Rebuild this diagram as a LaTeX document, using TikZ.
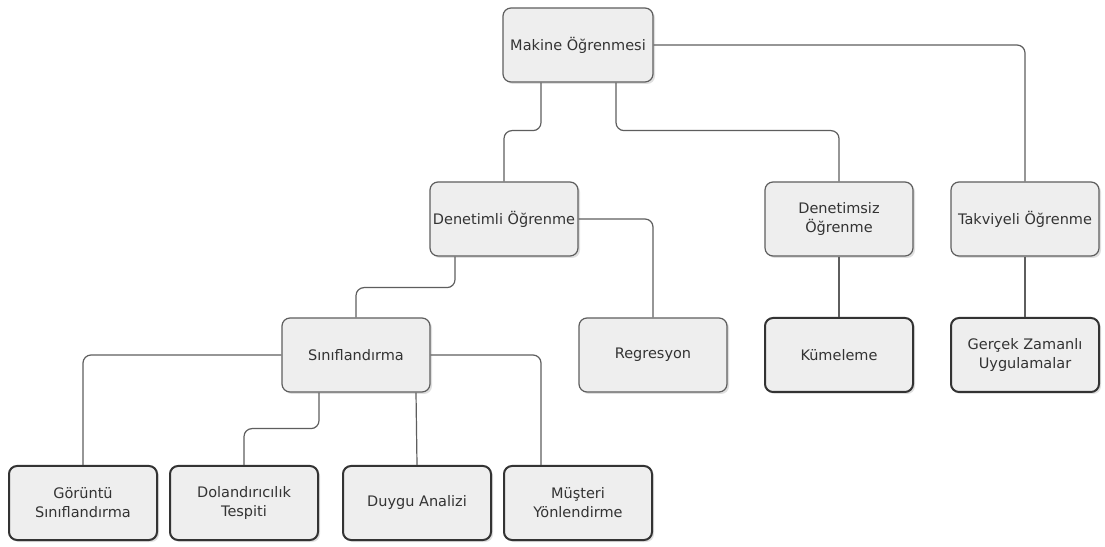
\documentclass[tikz,border=0pt]{standalone}
\usepackage{fontspec}
\setmainfont{DejaVu Sans}
\usetikzlibrary{shadows}
\definecolor{boxfill}{HTML}{EEEEEE}
\definecolor{boxline}{HTML}{5E5E5E}
\definecolor{txtgray}{HTML}{333333}
\tikzstyle{topic} = [rectangle, rounded corners=8pt, minimum width=148pt, minimum height=74pt, inner sep=2pt, align=center, fill=boxfill, draw=boxline, line width=1.2pt, text=txtgray, font=\fontsize{14.5}{19}\selectfont, drop shadow={shadow xshift=2pt, shadow yshift=-2pt, opacity=0.25}]
\tikzstyle{leaf} = [topic, line width=2pt, draw=txtgray]
\tikzstyle{link} = [draw=boxline, line width=1.2pt, rounded corners=8pt]

\begin{document}
\begin{tikzpicture}[x=1pt, y=1pt]
            \fill [white] (0,0) rectangle (1105,546);
            \useasboundingbox (0,0) rectangle (1105,546);

            \node [topic, minimum width=150pt] at (578,501) (mak) {Makine Öğrenmesi};
            \node [topic] at (504,327) (den) {Denetimli Öğrenme};
            \node [topic] at (839,327) (dsz) {Denetimsiz\\Öğrenme};
            \node [topic] at (1025,327) (tak) {Takviyeli Öğrenme};
            \node [topic] at (356,191) (sin) {Sınıflandırma};
            \node [topic] at (653,191) (reg) {Regresyon};
            \node [leaf] at (839,191) (kum) {Kümeleme};
            \node [leaf] at (1025,191) (gzu) {Gerçek Zamanlı\\Uygulamalar};
            \node [leaf] at (83,43) (gor) {Görüntü\\Sınıflandırma};
            \node [leaf] at (244,43) (dol) {Dolandırıcılık\\Tespiti};
            \node [leaf] at (417,43) (duy) {Duygu Analizi};
            \node [leaf] at (578,43) (mus) {Müşteri\\Yönlendirme};

            \draw [link] ([xshift=-37pt]mak.south) -- ++(0,-48) -| (den.north);
            \draw [link] ([xshift=38pt]mak.south) -- ++(0,-48) -| (dsz.north);
            \draw [link] (mak.east) -| (tak.north);
            \draw [link] (den.east) -| (reg.north);
            \draw [link] ([xshift=-49pt]den.south) -- ++(0,-31) -| (sin.north);
            \draw [link] (dsz.south) -- (kum.north);
            \draw [link] (tak.south) -- (gzu.north);
            \draw [link] (sin.west) -| (gor.north);
            \draw [link] ([xshift=-37pt]sin.south) -- ++(0,-36) -| (dol.north);
            \draw [link] ([xshift=60pt]sin.south) -- (duy.north);
            \draw [link] (sin.east) -| ([xshift=-37pt]mus.north);
            \end{tikzpicture}
\end{document}
